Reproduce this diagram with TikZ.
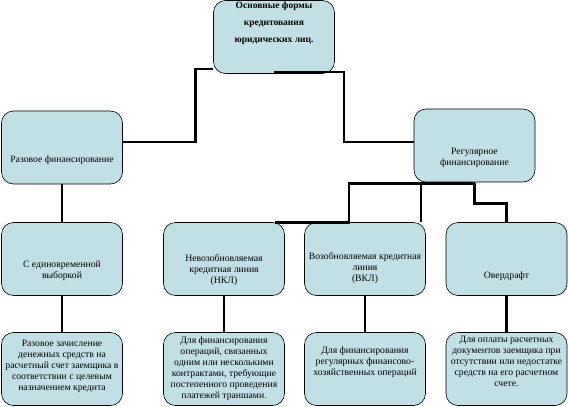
\documentclass[tikz,border=0pt]{standalone}
\usepackage{fontspec}
\setmainfont{Liberation Serif}
\usetikzlibrary{positioning}
\definecolor{boxblue}{RGB}{193,224,230}

\begin{document}
\begin{tikzpicture}[x=1pt, y=-1pt,
  box/.style={draw, line width=0.6pt, rounded corners=12pt, fill=boxblue,
              minimum width=121pt, minimum height=73pt, inner sep=0pt},
  txt/.style={align=center, font=\fontsize{9.7}{11}\selectfont, inner sep=0pt},
  conn/.style={line width=2.6pt}]
  \useasboundingbox (0,0) rectangle (568,407);
  % top
  \node[box, label={[txt, font=\bfseries\fontsize{9.5}{17}\selectfont, yshift=14pt]center:{Основные формы\\кредитования\\юридических лиц.}}]
    (forms) at (274,37) {};
  % second level
  \node[box, label={[txt, yshift=-13pt]center:{Разовое финансирование}}] (razov) at (62,147.5) {};
  \node[box, label={[txt, yshift=-12pt]center:{Регулярное\\финансирование}}] (regul) at (474.5,145.5) {};
  % third level
  \node[box, label={[txt, yshift=-12pt]center:{С единовременной\\выборкой}}] (edin) at (62,259) {};
  \node[box, label={[txt, yshift=-11pt]center:{Невозобновляемая\\кредитная линия\\(НКЛ)}}] (nkl) at (224,259) {};
  \node[box, label={[txt, yshift=-9pt]center:{Возобновляемая кредитная\\линия\\(ВКЛ)}}] (vkl) at (365,259) {};
  \node[box, label={[txt, yshift=-17pt]center:{Овердрафт}}] (over) at (506.5,259) {};
  % descriptions
  \node[box, label={[txt, yshift=3pt]center:{Разовое зачисление\\денежных средств на\\расчетный счет заемщика в\\соответствии с целевым\\назначением кредита}}] (d1) at (62,369) {};
  \node[box, label={[txt]center:{Для финансирования\\операций, связанных\\одним или несколькими\\контрактами, требующие\\постепенного проведения\\платежей траншами.}}] (d2) at (224,369) {};
  \node[box, label={[txt, yshift=7pt]center:{Для финансирования\\регулярных финансово-\\хозяйственных операций}}] (d3) at (365,369) {};
  \node[box, label={[txt, yshift=8pt]center:{Для оплаты расчетных\\документов заемщика при\\отсутствии или недостатке\\средств на его расчетном\\счете.}}] (d4) at (506.5,369) {};
  % connectors from the top
  \draw[conn] ([yshift=5pt]forms.south west) -- ++(-18,0) |- ([yshift=5.5pt]razov.east);
  \draw[conn] ([yshift=2pt]forms.south) -- ++(70,0) |- ([yshift=3.5pt]regul.west);
  \draw[conn] (razov) -- (edin);
  \coordinate (hub) at ([yshift=-1pt]regul.south);
  \draw[conn] (hub) -| ([xshift=-16pt]vkl.north) -- ([xshift=-10pt]nkl.north east);
  \draw[conn] ([xshift=-5pt]vkl.north east |- hub) -- ([xshift=-5pt]vkl.north east);
  \draw[conn] (hub) -- ++(0,20) -| (over.north);
  % to descriptions
  \draw[conn] (edin) -- (d1);
  \draw[conn] (nkl) -- (d2);
  \draw[conn] (vkl) -- (d3);
  \draw[conn] (over) -- (d4);
\end{tikzpicture}
\end{document}
